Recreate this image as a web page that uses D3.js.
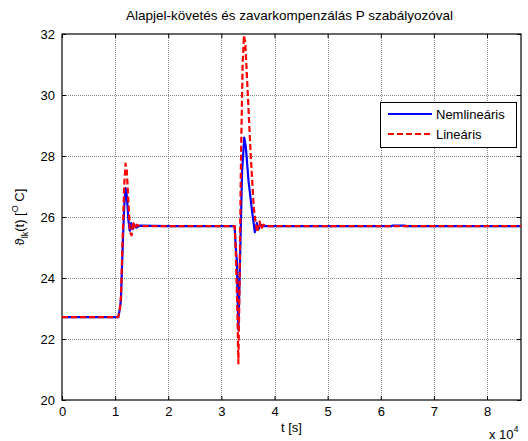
<!DOCTYPE html>
<html><head><meta charset="utf-8">
<script src="https://cdn.jsdelivr.net/npm/d3@7"></script>
<style>body{margin:0;background:#fff}svg{display:block;font-family:"Liberation Sans",Arial,sans-serif}</style>
</head><body><svg id="c" width="528" height="441"></svg>
<script>
const title = "Alapjel-követés és zavarkompenzálás P szabályozóval";
const xTicks = [0,10000,20000,30000,40000,50000,60000,70000,80000];
const xTickLabels = ["0","1","2","3","4","5","6","7","8"];
const yTicks = [20,22,24,26,28,30,32];
const seriesNames = ["Nemlineáris","Lineáris"];
const timeNL = [0,10600,10900,11100,11300,11500,11700,11950,12200,12500,12750,13000,13300,13600,14000,14600,20000,32500,32700,32900,33200,33500,33900,34300,34600,35100,35700,36300,36700,37000,37400,38000,62000,62300,64500,64800,86400];
const tempNL = [22.72,22.72,23.0,23.3,24.4,25.4,26.3,26.95,26.7,25.9,25.55,25.8,25.6,25.75,25.65,25.72,25.7,25.7,25.0,24.6,22.3,24.5,27.5,28.6,28.3,27.2,26.3,25.5,25.8,25.6,25.75,25.7,25.7,25.72,25.72,25.7,25.7];
const timeL = [0,10600,10900,11100,11300,11500,11700,11950,12200,12500,12800,13100,13400,13700,14100,14600,32500,32700,33000,33200,33400,33700,34000,34250,34500,34900,35500,36100,36700,37200,37500,37900,38500,86400];
const tempL = [22.72,22.72,23.0,23.4,24.6,25.8,27.0,27.75,27.5,26.5,25.5,25.4,25.85,25.6,25.75,25.7,25.7,24.9,23.0,21.2,23.5,28.0,31.0,31.95,31.7,30.3,28.1,26.3,25.5,25.85,25.6,25.75,25.7,25.7];

const svg = d3.select("#c");
const L=62,R=521,T=34,B=400;
const x = d3.scaleLinear().domain([0,86400]).range([L,R]);
const y = d3.scaleLinear().domain([20,32]).range([B,T]);

// grid
const g = svg.append("g");
g.selectAll(".gx").data(xTicks.slice(1)).enter().append("line")
 .attr("x1",d=>Math.round(x(d))+0.5).attr("x2",d=>Math.round(x(d))+0.5).attr("y1",T).attr("y2",B)
 .attr("stroke","#888").attr("stroke-width",1).attr("stroke-dasharray","1,1");
g.selectAll(".gy").data(yTicks.slice(1,-1)).enter().append("line")
 .attr("y1",d=>Math.round(y(d))+0.5).attr("y2",d=>Math.round(y(d))+0.5).attr("x1",L).attr("x2",R)
 .attr("stroke","#888").attr("stroke-width",1).attr("stroke-dasharray","1,1");

// axes
const xa = svg.append("g").attr("transform",`translate(0,${B})`)
 .call(d3.axisBottom(x).tickValues(xTicks).tickFormat((d,i)=>xTickLabels[i]).tickSizeInner(-4).tickSizeOuter(0).tickPadding(7));
const xt = svg.append("g").attr("transform",`translate(0,${T})`)
 .call(d3.axisTop(x).tickValues(xTicks).tickFormat("").tickSizeInner(-4).tickSizeOuter(0));
const ya = svg.append("g").attr("transform",`translate(${L},0)`)
 .call(d3.axisLeft(y).tickValues(yTicks).tickSizeInner(-4).tickSizeOuter(0).tickPadding(7));
const yr = svg.append("g").attr("transform",`translate(${R},0)`)
 .call(d3.axisRight(y).tickValues(yTicks).tickFormat("").tickSizeInner(-4).tickSizeOuter(0));
[xa,xt,ya,yr].forEach(a=>{a.selectAll("path").remove();a.selectAll("line").attr("stroke","#000");
 a.selectAll("text").attr("font-size","13px").attr("fill","#000").attr("font-family","Liberation Sans, Arial, sans-serif");});
svg.append("rect").attr("x",L).attr("y",T).attr("width",R-L).attr("height",B-T)
 .attr("fill","none").attr("stroke","#000").attr("stroke-width",1.2);

// lines
const line = (ts,vs)=>d3.line().x((d,i)=>x(ts[i])).y(d=>y(d))(vs);
svg.append("path").attr("d",line(timeNL,tempNL)).attr("fill","none").attr("stroke","#0000ff").attr("stroke-width",2.2).attr("stroke-linejoin","round");
svg.append("path").attr("d",line(timeL,tempL)).attr("fill","none").attr("stroke","#ff0000").attr("stroke-width",2.2).attr("stroke-dasharray","6,3").attr("stroke-linejoin","round");

// title & labels
svg.append("text").attr("x",(L+R)/2 - 2).attr("y",20).attr("text-anchor","middle").attr("font-size","13.5px").text(title);
svg.append("text").attr("x",(L+R)/2).attr("y",432).attr("text-anchor","middle").attr("font-size","13px").text("t [s]");
const xe = svg.append("text").attr("x",489).attr("y",439).attr("font-size","13px");
xe.append("tspan").text("x 10");
xe.append("tspan").attr("dy",-7).attr("font-size","9px").text("4");
const yl = svg.append("text").attr("transform","translate(24,217) rotate(-90)").attr("text-anchor","middle").attr("font-size","13px");
yl.append("tspan").text("ϑ");
yl.append("tspan").attr("dy",4).attr("font-size","9px").text("lk");
yl.append("tspan").attr("dy",-4).text("(t) [");
yl.append("tspan").attr("dy",-6).attr("font-size","9px").text("O");
yl.append("tspan").attr("dy",6).text(" C]");

// legend
const lg = svg.append("g");
lg.append("rect").attr("x",380.5).attr("y",102.5).attr("width",136).attr("height",45).attr("fill","#fff").attr("stroke","#000").attr("stroke-width",1);
const ly=[114,134], cols=["#0000ff","#ff0000"], dash=[null,"6,3"];
seriesNames.forEach((n,i)=>{
 lg.append("line").attr("x1",388).attr("x2",432).attr("y1",ly[i]).attr("y2",ly[i]).attr("stroke",cols[i]).attr("stroke-width",2.2).attr("stroke-dasharray",dash[i]);
 lg.append("text").attr("x",436).attr("y",ly[i]+5).attr("font-size","13px").text(n);
});
</script></body></html>
